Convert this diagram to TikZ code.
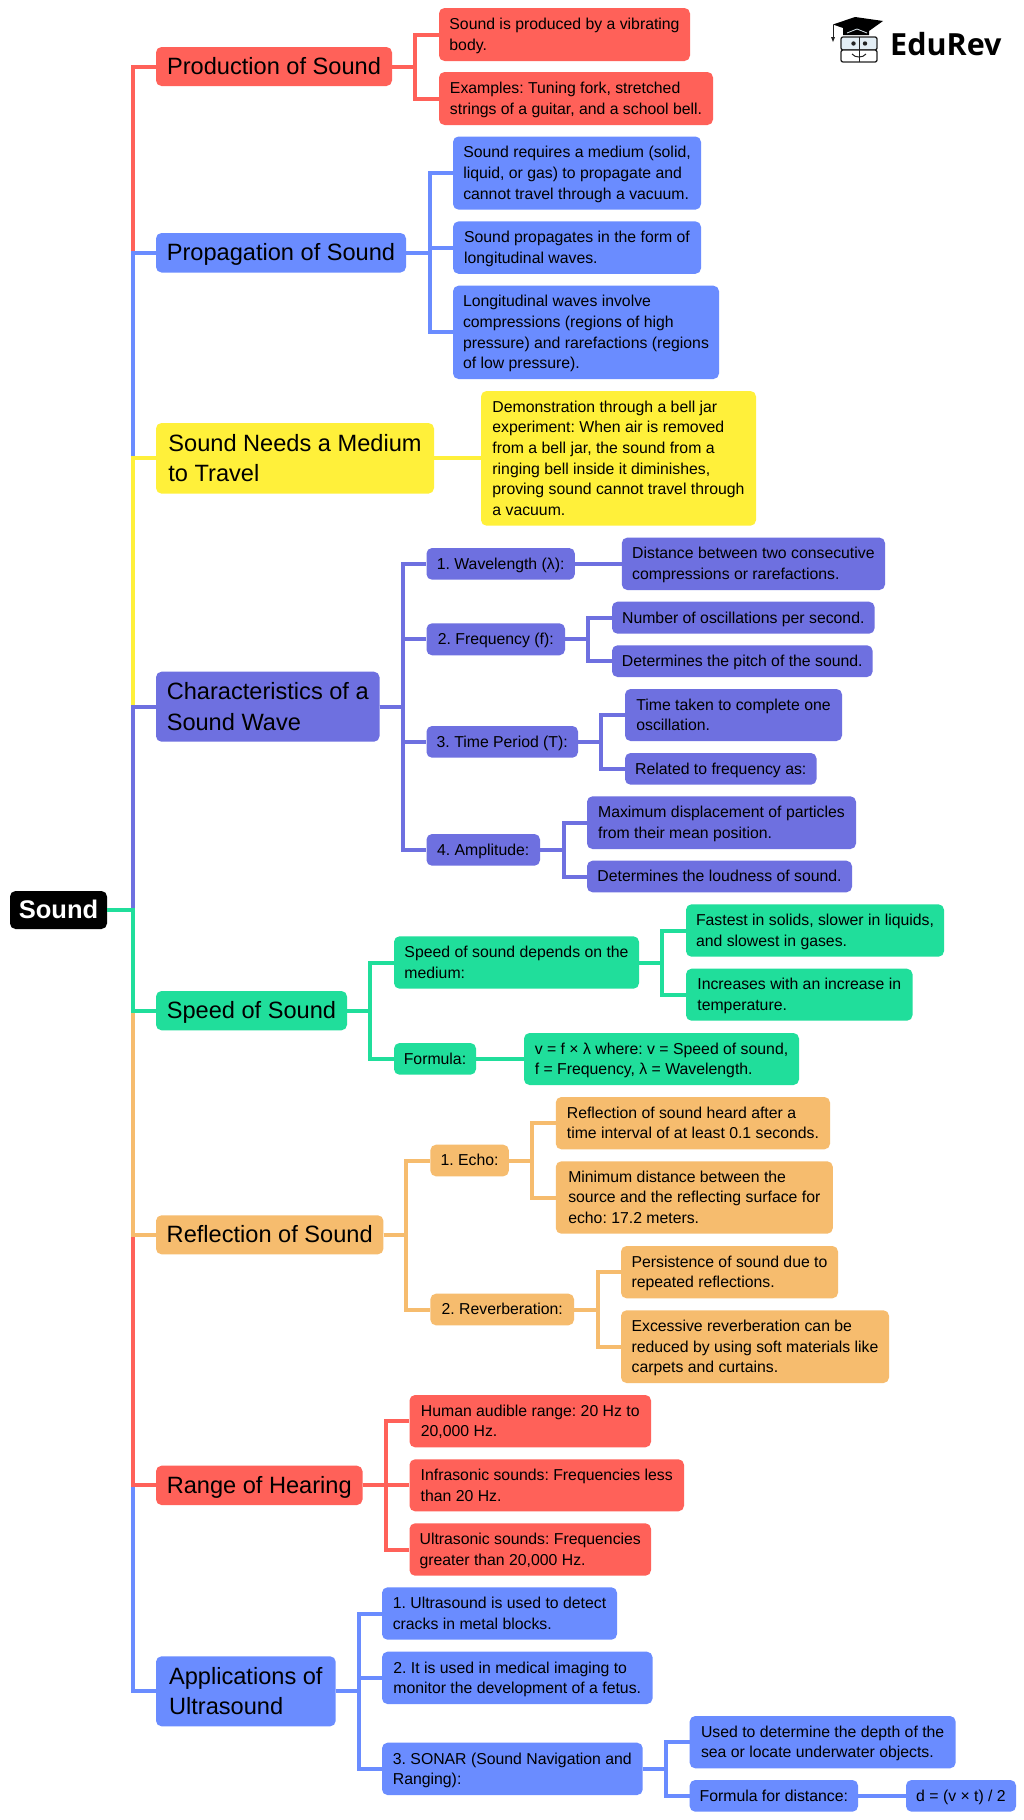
\documentclass[tikz,border=0pt]{standalone}
\usepackage{fontspec}
\setmainfont{Liberation Sans}
\newfontfamily\logofont{Open Sans}
\definecolor{cRed}{HTML}{FF6159}
\definecolor{cBlue}{HTML}{6A8CFF}
\definecolor{cYel}{HTML}{FFF03A}
\definecolor{cPur}{HTML}{6E70E0}
\definecolor{cGrn}{HTML}{20DE9B}
\definecolor{cOra}{HTML}{F6BC6E}
\definecolor{cFace}{HTML}{E3EEF5}
\definecolor{cInk}{HTML}{222222}
\tikzset{
  mapbox/.style={rectangle,rounded corners=5.5pt,inner sep=0pt,align=left,text=black},
  leaf/.style={mapbox,font=\fontsize{15.8}{20.6}\selectfont\frenchspacing},
  head/.style={mapbox,font=\fontsize{23.6}{30.6}\selectfont\frenchspacing},
  rootbox/.style={mapbox,text=white,font=\fontsize{25.5}{30}\selectfont\bfseries},
  conn/.style={line width=4pt}
}
\newcommand{\boxstrut}{\vrule width 0pt height \dimexpr.5\baselineskip+.3465em\relax depth \dimexpr.5\baselineskip-.3465em\relax}
\newcommand{\bx}[7]{\node[#6,minimum width={(#4-#2)*1pt},minimum height={(#5-#3)*1pt}] (#1) at ({(#2+#4)/2},{(#3+#5)/2}) {\boxstrut #7\boxstrut};}
\newcommand{\cn}[4]{\draw[conn,draw=#4] (#1.east) -- (#1.east -| #3,0) |- (#2.west);}
\newcommand{\sn}[3]{\draw[conn,draw=#3] (#1.east) -- (#1.east -| #2.west);}
\begin{document}
\begin{tikzpicture}[x=1pt,y=-1pt]
\useasboundingbox (0,0) rectangle (1024,1820);
\fill[white] (0,0) rectangle (1024,1820);
% root
\bx{root}{10}{891}{107}{929}{rootbox,fill=black}{Sound}
% production
\bx{prod}{156}{47}{392}{86}{head,fill=cRed}{Production of Sound}
\bx{prodA}{439}{8}{690}{61}{leaf,fill=cRed}{Sound is produced by a vibrating\\body.}
\bx{prodB}{439}{72}{713}{125}{leaf,fill=cRed}{Examples: Tuning fork, stretched\\strings of a guitar, and a school bell.}
% propagation
\bx{prop}{156}{233}{406}{272.5}{head,fill=cBlue}{Propagation of Sound}
\bx{propA}{453}{136.5}{701}{209.6}{leaf,fill=cBlue}{Sound requires a medium (solid,\\liquid, or gas) to propagate and\\cannot travel through a vacuum.}
\bx{propB}{453}{221.4}{701}{273.8}{leaf,fill=cBlue}{Sound propagates in the form of\\longitudinal waves.}
\bx{propC}{453}{285.7}{719}{379}{leaf,fill=cBlue}{Longitudinal waves involve\\compressions (regions of high\\pressure) and rarefactions (regions\\of low pressure).}
% medium
\bx{need}{156}{423}{434}{493.6}{head,fill=cYel}{Sound Needs a Medium\\to Travel}
\bx{needA}{481}{391}{756}{525.7}{leaf,fill=cYel}{Demonstration through a bell jar\\experiment: When air is removed\\from a bell jar, the sound from a\\ringing bell inside it diminishes,\\proving sound cannot travel through\\a vacuum.}
% characteristics
\bx{char}{156}{671.7}{379.5}{741.7}{head,fill=cPur}{Characteristics of a\\Sound Wave}
\bx{wave}{426.5}{548}{574.8}{579.7}{leaf,fill=cPur}{1. Wavelength (λ):}
\bx{waveA}{621.8}{537.6}{885}{590}{leaf,fill=cPur}{Distance between two consecutive\\compressions or rarefactions.}
\bx{freq}{426.5}{623.3}{565}{655.3}{leaf,fill=cPur}{2. Frequency (f):}
\bx{freqA}{612}{601.7}{874.6}{633.7}{leaf,fill=cPur}{Number of oscillations per second.}
\bx{freqB}{612}{645.3}{872.6}{677}{leaf,fill=cPur}{Determines the pitch of the sound.}
\bx{time}{426.5}{726}{578}{757.7}{leaf,fill=cPur}{3. Time Period (T):}
\bx{timeA}{625}{689}{842}{741}{leaf,fill=cPur}{Time taken to complete one\\oscillation.}
\bx{timeB}{625}{753}{816.5}{784.7}{leaf,fill=cPur}{Related to frequency as:}
\bx{ampl}{426.5}{834}{540}{865.7}{leaf,fill=cPur}{4. Amplitude:}
\bx{amplA}{587}{796.3}{856}{849}{leaf,fill=cPur}{Maximum displacement of particles\\from their mean position.}
\bx{amplB}{587}{860.7}{852}{892.3}{leaf,fill=cPur}{Determines the loudness of sound.}
% speed
\bx{speed}{156}{991}{347}{1030.3}{head,fill=cGrn}{Speed of Sound}
\bx{spA}{394}{936.3}{639}{988.7}{leaf,fill=cGrn}{Speed of sound depends on the\\medium:}
\bx{spAa}{686}{904.3}{944}{956.7}{leaf,fill=cGrn}{Fastest in solids, slower in liquids,\\and slowest in gases.}
\bx{spAb}{686}{968.7}{912.5}{1020.7}{leaf,fill=cGrn}{Increases with an increase in\\temperature.}
\bx{spB}{394}{1043}{476}{1074.7}{leaf,fill=cGrn}{Formula:}
\bx{spBa}{524}{1033}{799}{1085}{leaf,fill=cGrn}{v = f × λ where: v = Speed of sound,\\f = Frequency, λ = Wavelength.}
% reflection
\bx{refl}{156}{1215.3}{383.4}{1254.3}{head,fill=cOra}{Reflection of Sound}
\bx{echo}{430.4}{1144.7}{508.8}{1176.3}{leaf,fill=cOra}{1. Echo:}
\bx{echoA}{555.8}{1097}{830}{1149.3}{leaf,fill=cOra}{Reflection of sound heard after a\\time interval of at least 0.1 seconds.}
\bx{echoB}{555.8}{1161.3}{832.8}{1233.7}{leaf,fill=cOra}{Minimum distance between the\\source and the reflecting surface for\\echo: 17.2 meters.}
\bx{rev}{430.4}{1293.7}{574}{1325.3}{leaf,fill=cOra}{2. Reverberation:}
\bx{revA}{621}{1246}{838}{1298.3}{leaf,fill=cOra}{Persistence of sound due to\\repeated reflections.}
\bx{revB}{621}{1310.3}{889}{1383}{leaf,fill=cOra}{Excessive reverberation can be\\reduced by using soft materials like\\carpets and curtains.}
% range
\bx{range}{156}{1465.7}{362.5}{1505}{head,fill=cRed}{Range of Hearing}
\bx{rA}{409.5}{1395}{651}{1447.3}{leaf,fill=cRed}{Human audible range: 20 Hz to\\20,000 Hz.}
\bx{rB}{409.5}{1459.3}{684}{1511.3}{leaf,fill=cRed}{Infrasonic sounds: Frequencies less\\than 20 Hz.}
\bx{rC}{409.5}{1523.3}{651}{1575.7}{leaf,fill=cRed}{Ultrasonic sounds: Frequencies\\greater than 20,000 Hz.}
% applications
\bx{apps}{156}{1656.3}{335.7}{1726.3}{head,fill=cBlue}{Applications of\\Ultrasound}
\bx{aA}{382}{1587.3}{617}{1639.7}{leaf,fill=cBlue}{1. Ultrasound is used to detect\\cracks in metal blocks.}
\bx{aB}{382}{1651.7}{652.5}{1704}{leaf,fill=cBlue}{2. It is used in medical imaging to\\monitor the development of a fetus.}
\bx{aC}{382}{1742.7}{642.7}{1795}{leaf,fill=cBlue}{3. SONAR (Sound Navigation and\\Ranging):}
\bx{aCa}{689.7}{1716}{955.6}{1768.3}{leaf,fill=cBlue}{Used to determine the depth of the\\sea or locate underwater objects.}
\bx{aCb}{689.7}{1780}{858}{1811.7}{leaf,fill=cBlue}{Formula for distance:}
\bx{aCc}{906}{1780}{1016}{1811.7}{leaf,fill=cBlue}{d = (v × t) / 2}
% trunk connectors, farthest first so nearer branches lie on top
\cn{root}{prod}{132.6}{cRed}
\cn{root}{prop}{132.6}{cBlue}
\cn{root}{need}{132.6}{cYel}
\cn{root}{char}{132.6}{cPur}
\cn{root}{apps}{132.6}{cBlue}
\cn{root}{range}{132.6}{cRed}
\cn{root}{refl}{132.6}{cOra}
\cn{root}{speed}{132.6}{cGrn}
% branches
\cn{prod}{prodA}{415}{cRed}
\cn{prod}{prodB}{415}{cRed}
\cn{prop}{propA}{430}{cBlue}
\cn{prop}{propB}{430}{cBlue}
\cn{prop}{propC}{430}{cBlue}
\sn{need}{needA}{cYel}
\cn{char}{wave}{403}{cPur}
\cn{char}{freq}{403}{cPur}
\cn{char}{time}{403}{cPur}
\cn{char}{ampl}{403}{cPur}
\sn{wave}{waveA}{cPur}
\cn{freq}{freqA}{588}{cPur}
\cn{freq}{freqB}{588}{cPur}
\cn{time}{timeA}{601}{cPur}
\cn{time}{timeB}{601}{cPur}
\cn{ampl}{amplA}{564}{cPur}
\cn{ampl}{amplB}{564}{cPur}
\cn{speed}{spA}{369.7}{cGrn}
\cn{speed}{spB}{369.7}{cGrn}
\cn{spA}{spAa}{662}{cGrn}
\cn{spA}{spAb}{662}{cGrn}
\sn{spB}{spBa}{cGrn}
\cn{refl}{echo}{406}{cOra}
\cn{refl}{rev}{406}{cOra}
\cn{echo}{echoA}{532}{cOra}
\cn{echo}{echoB}{532}{cOra}
\cn{rev}{revA}{597.6}{cOra}
\cn{rev}{revB}{597.6}{cOra}
\cn{range}{rA}{386}{cRed}
\cn{range}{rB}{386}{cRed}
\cn{range}{rC}{386}{cRed}
\cn{apps}{aA}{359}{cBlue}
\cn{apps}{aB}{359}{cBlue}
\cn{apps}{aC}{359}{cBlue}
\cn{aC}{aCa}{666}{cBlue}
\cn{aC}{aCb}{666}{cBlue}
\sn{aCb}{aCc}{cBlue}
% logo
\node[anchor=base west,inner sep=0pt,text=black,font=\fontsize{30.5}{32}\logofont\bfseries] (logotext) at (890,55) {EduRev};
\draw[cInk,line width=1.3pt,rounded corners=2pt,fill=cFace] (841,37) rectangle (877,50);
\draw[cInk,line width=1.3pt,rounded corners=2pt,fill=white] (841,50) rectangle (877,62);
\draw[cInk,line width=1pt] (859,37) -- (859,62);
\fill[cInk] (853.5,43.5) circle (2.2) (865,43.5) circle (2.2);
\draw[cInk,line width=1pt] (852,54) .. controls (855,58) and (863,58) .. (866,54);
\fill[black] (833,24.5) -- (855,17) -- (883,21) -- (869,31) -- (869,35) -- (843,35) -- (843,28) -- cycle;
\draw[cFace,line width=.8pt] (847,33) -- (857,29) -- (867,33);
\draw[cInk,line width=1pt] (833,24.5) -- (833,38);
\fill[cInk] (831,37) -- (835,37) -- (833,42) -- cycle;
\end{tikzpicture}
\end{document}
